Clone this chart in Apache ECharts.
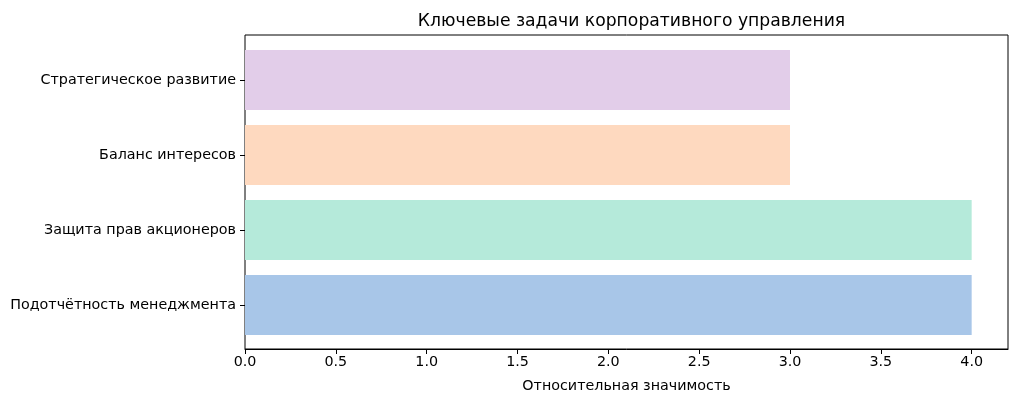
<!DOCTYPE html>
<html>
<head>
<meta charset="utf-8">
<script src="https://cdn.jsdelivr.net/npm/echarts@6/dist/echarts.min.js"></script>
<style>
  html, body { margin: 0; padding: 0; background: #fff; }
  #chart { width: 1024px; height: 409px; }
</style>
</head>
<body>
<div id="chart"></div>
<script>
const categories = ['Подотчётность менеджмента', 'Защита прав акционеров', 'Баланс интересов', 'Стратегическое развитие']
const values = [4, 4, 3, 3]
const colors = ['#a8c6e8', '#b5eada', '#fed9bf', '#e2cde9']
const xTicks = [0, 0.5, 1, 1.5, 2, 2.5, 3, 3.5, 4]

const font = 'DejaVu Sans'
const chart = echarts.init(document.getElementById('chart'))

const options = {
  animation: false,
  title: {
    text: 'Ключевые задачи корпоративного управления',
    left: 626.5,
    top: 8,
    textAlign: 'center',
    textStyle: { fontFamily: font, fontSize: 17.2, fontWeight: 'normal', color: '#000' }
  },
  grid: [
    // frame + x axis
    { left: 245, right: 16, top: 35, bottom: 60, show: true, borderColor: '#000', borderWidth: 1, containLabel: false },
    // bars (matplotlib leaves 0.1 band padding top/bottom)
    { left: 245, right: 16, top: 42.5, bottom: 66.5, containLabel: false }
  ],
  xAxis: [
    {
      gridIndex: 0,
      type: 'value',
      min: 0,
      max: 4.2,
      interval: 0.5,
      splitLine: { show: false },
      axisLine: { show: true, lineStyle: { color: '#000' } },
      axisTick: { show: true, length: 5, lineStyle: { color: '#000' } },
      axisLabel: {
        fontFamily: font, fontSize: 14.3, color: '#000', margin: 6,
        showMaxLabel: false,
        formatter: v => (xTicks.includes(v) ? v.toFixed(1) : '')
      },
      name: 'Относительная значимость',
      nameLocation: 'middle',
      nameGap: 30,
      nameTextStyle: { fontFamily: font, fontSize: 14.3, color: '#000' }
    },
    {
      gridIndex: 1,
      type: 'value',
      min: 0,
      max: 4.2,
      show: false
    }
  ],
  yAxis: [
    { gridIndex: 0, type: 'value', show: false },
    {
      gridIndex: 1,
      type: 'category',
      data: categories,
      axisLine: { show: false },
      axisTick: { show: true, alignWithLabel: true, length: 5, lineStyle: { color: '#000' } },
      axisLabel: { fontFamily: font, fontSize: 14.3, color: '#000', margin: 9 }
    }
  ],
  series: [
    {
      type: 'bar',
      xAxisIndex: 1,
      yAxisIndex: 1,
      barCategoryGap: '20%',
      data: values.map((v, i) => ({ value: v, itemStyle: { color: colors[i] } }))
    }
  ]
}
chart.setOption(options)
</script>
</body>
</html>
